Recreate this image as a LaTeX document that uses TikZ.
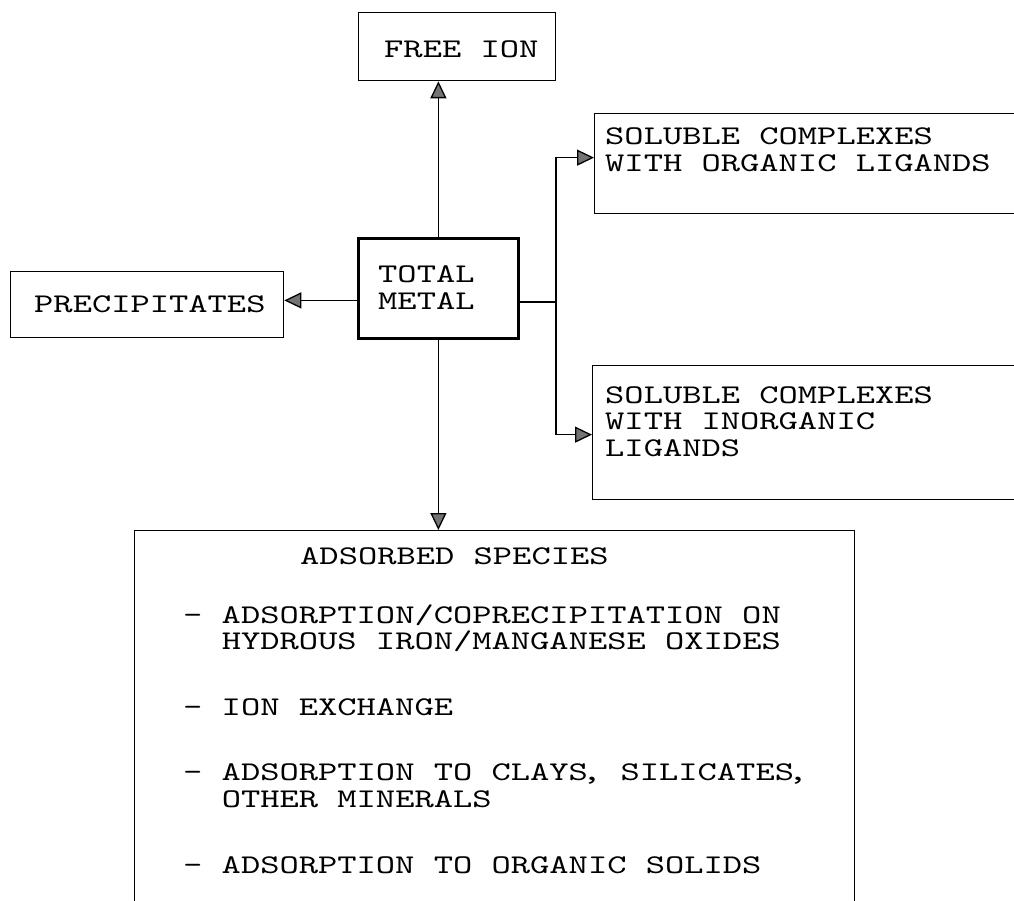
\documentclass[tikz,border=0pt]{standalone}
\usepackage{fontspec}
\newfontfamily\tw{lmmono10-regular.otf}[FakeStretch=1.36]
\usetikzlibrary{arrows.meta}
\tikzset{
  box/.style={draw=black, line width=1.3pt, inner sep=0pt, anchor=north west, rectangle},
  txt/.style={font=\tw\fontsize{27}{26.5}\selectfont, inner sep=0pt, anchor=base west, align=left,
    execute at begin node={\spaceskip=\fontcharwd\font`A\relax\xspaceskip=\spaceskip}},
  arr/.style={line width=1.3pt, -{Triangle[length=17pt,width=16pt,fill=black!55]}},
  ln/.style={line width=1.3pt},
}
\begin{document}
\begin{tikzpicture}[x=1pt,y=-1pt]
\clip (0,0) rectangle (1014,901);
% boxes
\node[box, minimum width=197pt, minimum height=68pt] (free) at (358,12) {};
\node[box, line width=2.8pt, minimum width=160pt, minimum height=100pt] (total) at (357,237) {};
\node[box, minimum width=273pt, minimum height=66pt] (prec) at (10,271) {};
\node[box, minimum width=460pt, minimum height=100pt] (org) at (594,113) {};
\node[box, minimum width=460pt, minimum height=134pt] (inorg) at (592,365) {};
\node[box, minimum width=720pt, minimum height=420pt] (ads) at (134,530) {};
% texts
\node[txt] (tfree) at (384,58) {FREE ION};
\node[txt, text width=150pt] (ttot) at (378,283) {TOTAL\\METAL};
\node[txt] (tprec) at (34,312) {PRECIPITATES};
\node[txt, text width=420pt] (torg) at (605,145) {SOLUBLE COMPLEXES\\WITH ORGANIC LIGANDS};
\node[txt, text width=420pt] (tinorg) at (605,403) {SOLUBLE COMPLEXES\\WITH INORGANIC\\LIGANDS};
\node[txt] (thead) at (300,564) {ADSORBED SPECIES};
\node[txt, text width=700pt] (titems) at (183,623) {- ADSORPTION/COPRECIPITATION ON\\\phantom{- }HYDROUS IRON/MANGANESE OXIDES\\[39pt]- ION EXCHANGE\\[39pt]- ADSORPTION TO CLAYS\kern-6pt, SILICATES\kern-6pt,\\\phantom{- }OTHER MINERALS\\[40pt]- ADSORPTION TO ORGANIC SOLIDS};
% connectors
\coordinate (bus) at (556,302);
\draw[arr] (total.north) -- (total.north |- free.south);
\draw[arr] (total.south) -- (total.south |- ads.north);
\draw[arr] ([yshift=-12pt]total.west) -- ([yshift=-12pt]total.west -| prec.east);
\draw[ln] (total.east |- bus) -- (bus);
\draw[arr] (bus) |- ([yshift=6pt]org.west);
\draw[arr] (bus) |- ([yshift=-2pt]inorg.west);
\end{tikzpicture}
\end{document}
